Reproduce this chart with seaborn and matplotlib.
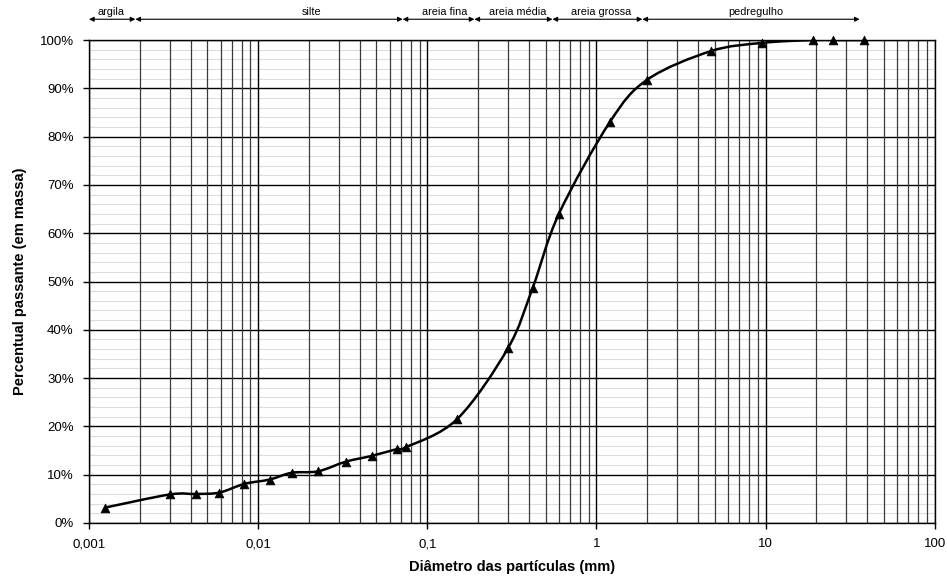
import numpy as np
import pandas as pd
import matplotlib
matplotlib.use('Agg')
import matplotlib.pyplot as plt
import seaborn as sns
from matplotlib.path import Path
from matplotlib.patches import PathPatch
from matplotlib.ticker import FixedLocator, FuncFormatter, MultipleLocator, LogLocator, NullFormatter


# Grain size curve values
diametro = [0.00125, 0.0030, 0.0043, 0.0059, 0.0083, 0.0117, 0.0158, 0.0226,
            0.033, 0.047, 0.066, 0.075, 0.15, 0.30, 0.42, 0.60, 1.2, 2.0,
            4.75, 9.5, 19, 25, 38]
passante = [3.2, 5.9, 6.0, 6.3, 8.1, 9.0, 10.4, 10.7, 12.7, 13.9, 15.3, 15.7,
            21.5, 36.2, 48.7, 64.0, 83.0, 91.8, 97.7, 99.4, 100, 100, 100]

# Soil fractions on top of the chart
fracoes = ['argila', 'silte', 'areia fina', 'areia média', 'areia grossa', 'pedregulho']
limites = [0.001, 0.00188, 0.0715, 0.19, 0.55, 1.87, 36]
centro_rotulo = [0.00135, 0.0206, 0.127, 0.342, 1.06, 8.8]

x_ticks = [0.001, 0.01, 0.1, 1, 10, 100]
x_tick_labels = ['0,001', '0,01', '0,1', '1', '10', '100']

df = pd.DataFrame({'diametro': diametro, 'passante': passante})

sns.set_style('white')
plt.rcParams['font.family'] = ['Liberation Sans', 'DejaVu Sans']
plt.rcParams['text.color'] = 'black'
plt.rcParams['axes.labelcolor'] = 'black'
plt.rcParams['xtick.color'] = 'black'
plt.rcParams['ytick.color'] = 'black'

fig = plt.figure(figsize=(9.47, 5.8), dpi=100)
ax = fig.add_axes([0.094, 0.0983, 0.893, 0.8327])
ax.set_xscale('log')
ax.set_xlim(0.001, 100)
ax.set_ylim(0, 100)

# grid
ax.yaxis.set_major_locator(MultipleLocator(10))
ax.yaxis.set_minor_locator(MultipleLocator(2))
ax.xaxis.set_major_locator(FixedLocator(x_ticks))
ax.xaxis.set_minor_locator(LogLocator(base=10, subs=np.arange(2, 10)))
ax.xaxis.set_minor_formatter(NullFormatter())
ax.grid(which='minor', axis='y', color='#dcdcdc', lw=0.8)
ax.grid(which='minor', axis='x', color='#3a3a3a', lw=0.9)
ax.grid(which='major', axis='both', color='black', lw=1.0)
ax.set_axisbelow(True)
# light horizontal lines go under the vertical ones
ax.yaxis.set_zorder(0.4)
ax.xaxis.set_zorder(0.5)

# smoothed curve (Catmull-Rom style Bezier in log space, like Excel smoothing)
lx = np.log10(df['diametro'].values)
yy = df['passante'].values
pts = np.column_stack([lx, yy])
verts = [pts[0]]
codes = [Path.MOVETO]
n = len(pts)
for i in range(n - 1):
    p0 = pts[i - 1] if i > 0 else pts[i]
    p1 = pts[i]
    p2 = pts[i + 1]
    p3 = pts[i + 2] if i + 2 < n else pts[i + 1]
    c1 = p1 + (p2 - p0) / 6.0
    c2 = p2 - (p3 - p1) / 6.0
    verts += [c1, c2, p2]
    codes += [Path.CURVE4] * 3
verts = np.array(verts)
verts[:, 0] = 10 ** verts[:, 0]
ax.add_patch(PathPatch(Path(verts, codes), facecolor='none', edgecolor='black', lw=1.8, zorder=3))

sns.scatterplot(data=df, x='diametro', y='passante', marker='^', s=40,
                color='black', edgecolor='black', ax=ax, zorder=4, clip_on=False)

ax.xaxis.set_major_formatter(FuncFormatter(lambda v, p: x_tick_labels[x_ticks.index(v)] if v in x_ticks else ''))
ax.yaxis.set_major_formatter(FuncFormatter(lambda v, p: f'{int(round(v))}%'))
ax.tick_params(axis='both', which='major', labelsize=9.5, length=4, width=1, color='black',
               labelcolor='black', direction='out', bottom=True, left=True, pad=7)
ax.tick_params(axis='both', which='minor', length=0)

for s in ax.spines.values():
    s.set_color('black')
    s.set_linewidth(1)

ax.set_xlabel('Diâmetro das partículas (mm)', fontsize=10.5, fontweight='bold', labelpad=7)
ax.set_ylabel('Percentual passante (em massa)', fontsize=10.5, fontweight='bold', labelpad=9)

# fraction arrows
for i, nome in enumerate(fracoes):
    ax.annotate('', xy=(limites[i], 1.043), xytext=(limites[i + 1], 1.043),
                xycoords=('data', 'axes fraction'), textcoords=('data', 'axes fraction'),
                arrowprops=dict(arrowstyle='<|-|>', color='black', lw=0.8,
                                mutation_scale=7, shrinkA=0, shrinkB=0),
                annotation_clip=False)
    ax.text(centro_rotulo[i], 1.058, nome, transform=ax.get_xaxis_transform(),
            ha='center', va='center', fontsize=7.8)

fig.savefig('out.png', dpi=100)
